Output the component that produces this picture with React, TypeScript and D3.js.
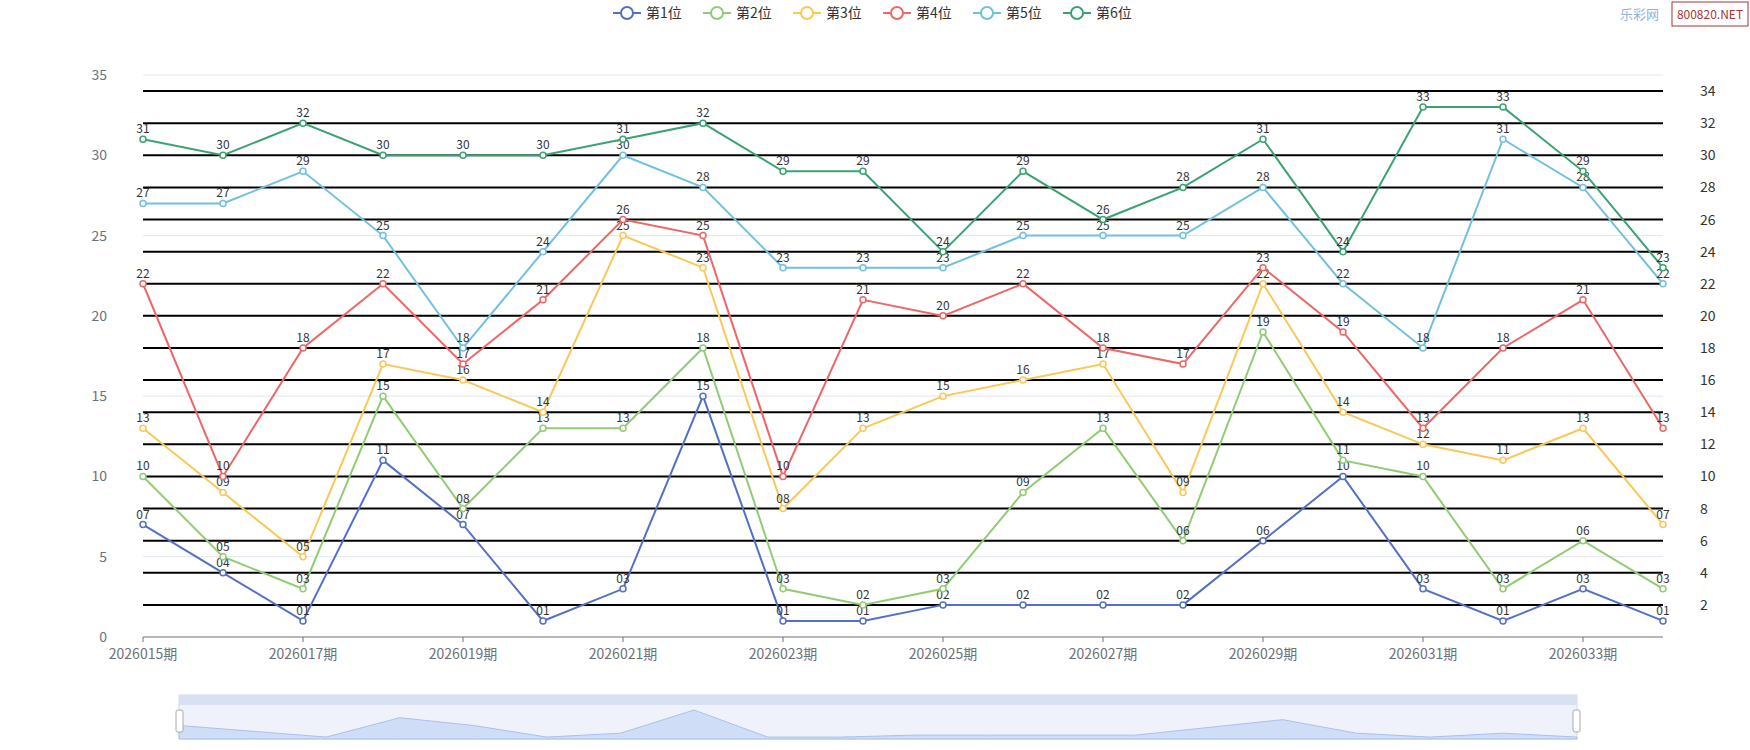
import React from 'react';
import * as d3 from 'd3';

const periods = d3.range(15, 35).map(n => `20260${n}期`);
const seriesNames = ['第1位', '第2位', '第3位', '第4位', '第5位', '第6位'];
const colors = ['#5470c6', '#91cc75', '#fac858', '#ee6666', '#73c0de', '#3ba272'];
const p1 = [7, 4, 1, 11, 7, 1, 3, 15, 1, 1, 2, 2, 2, 2, 6, 10, 3, 1, 3, 1];
const p2 = [10, 5, 3, 15, 8, 13, 13, 18, 3, 2, 3, 9, 13, 6, 19, 11, 10, 3, 6, 3];
const p3 = [13, 9, 5, 17, 16, 14, 25, 23, 8, 13, 15, 16, 17, 9, 22, 14, 12, 11, 13, 7];
const p4 = [22, 10, 18, 22, 17, 21, 26, 25, 10, 21, 20, 22, 18, 17, 23, 19, 13, 18, 21, 13];
const p5 = [27, 27, 29, 25, 18, 24, 30, 28, 23, 23, 23, 25, 25, 25, 28, 22, 18, 31, 28, 22];
const p6 = [31, 30, 32, 30, 30, 30, 31, 32, 29, 29, 24, 29, 26, 28, 31, 24, 33, 33, 29, 23];
const series = [p1, p2, p3, p4, p5, p6];
const leftTicks = [0, 5, 10, 15, 20, 25, 30, 35];
const rightTicks = d3.range(2, 35, 2);

const W = 1750, H = 750;
const L = 143, R = 1663, T = 75, B = 637;

export default function App() {
  const x = d3.scaleLinear().domain([0, periods.length - 1]).range([L, R]);
  const y = d3.scaleLinear().domain([0, 35]).range([B, T]);
  const line = d3.line<number>().x((_, i) => x(i)).y(d => y(d));
  const font = '"Microsoft YaHei","Noto Sans CJK SC",sans-serif';

  // 底部缩略图
  const sx = d3.scaleLinear().domain([0, periods.length - 1]).range([179, 1577]);
  const sy = d3.scaleLinear().domain([0, 15]).range([739, 710]);
  const sArea = d3.area<number>().x((_, i) => sx(i)).y0(739).y1(d => sy(d));

  const legendX = 613;
  return (
    <svg width={W} height={H} style={{ position: 'absolute', left: 0, top: 0, fontFamily: font }}>
      {/* legend */}
      {seriesNames.map((n, i) => {
        const lx = legendX + i * 90;
        return (
          <g key={n}>
            <line x1={lx} x2={lx + 28} y1={13} y2={13} stroke={colors[i]} strokeWidth={2} />
            <circle cx={lx + 14} cy={13} r={6} fill="#fff" stroke={colors[i]} strokeWidth={2} />
            <text x={lx + 33} y={18} fontSize={14} fill="#333">{n}</text>
          </g>
        );
      })}
      <text x={1620} y={19} fontSize={13} fill="#8fb3e0">乐彩网</text>
      <rect x={1672} y={2} width={76} height={24} fill="#fff" stroke="#a33" />
      <text x={1710} y={19} fontSize={12} fill="#a33" textAnchor="middle">800820.NET</text>

      {/* grid */}
      {leftTicks.map(t => (
        <g key={t}>
          {t > 0 && <line x1={L} x2={R} y1={y(t)} y2={y(t)} stroke="#e0e6f1" />}
          <text x={L - 36} y={y(t) + 5} fontSize={14} fill="#6e7079" textAnchor="end">{t}</text>
        </g>
      ))}
      {rightTicks.map(t => (
        <g key={t}>
          <line x1={L} x2={R} y1={y(t)} y2={y(t)} stroke="#000" strokeWidth={2} />
          <text x={R + 37} y={y(t) + 5} fontSize={14} fill="#333">{t}</text>
        </g>
      ))}
      <line x1={L} x2={R} y1={B} y2={B} stroke="#6e7079" />
      {periods.map((p, i) => (
        <g key={p}>
          {i % 2 === 0 && <line x1={x(i)} x2={x(i)} y1={B} y2={B + 5} stroke="#6e7079" />}
          {i % 2 === 0 && <text x={x(i)} y={B + 22} fontSize={14} fill="#6e7079" textAnchor="middle">{p}</text>}
        </g>
      ))}

      {/* series */}
      {series.map((s, k) => (
        <g key={k}>
          <path d={line(s) || ''} fill="none" stroke={colors[k]} strokeWidth={2} />
          {s.map((v, i) => (
            <g key={i}>
              <circle cx={x(i)} cy={y(v)} r={3} fill="#fff" stroke={colors[k]} strokeWidth={1.5} />
              <text x={x(i)} y={y(v) - 6} fontSize={12} fill="#333" textAnchor="middle">{String(v).padStart(2, '0')}</text>
            </g>
          ))}
        </g>
      ))}

      {/* dataZoom slider */}
      <rect x={179} y={695} width={1398} height={44} fill="#dfe6f7" fillOpacity={0.5} stroke="#d2dbee" />
      <rect x={179} y={695} width={1398} height={10} fill="#d9e0f2" />
      <path d={sArea(p1) || ''} fill="#c3d4f5" fillOpacity={0.7} stroke="#aac0ec" />
      <rect x={176} y={710} width={7} height={22} rx={2} fill="#fff" stroke="#aaa" />
      <rect x={1573} y={710} width={7} height={22} rx={2} fill="#fff" stroke="#aaa" />
    </svg>
  );
}
